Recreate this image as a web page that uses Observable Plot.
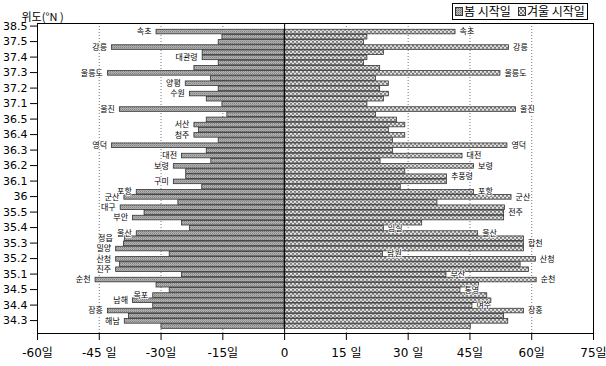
<!DOCTYPE html>
<html><head><meta charset="utf-8">
<script src="https://cdn.jsdelivr.net/npm/d3@7"></script>
<script src="https://cdn.jsdelivr.net/npm/@observablehq/plot@0.6"></script>
<style>body{margin:0;background:#fff} #chart{width:606px;height:366px}</style>
</head><body><div id="chart"></div>
<script>
// 봄 시작일 (negative, days) and 겨울 시작일 (positive, days), stations from north to south
const springDays = [-31.1,-15.1,-16.0,-41.9,-19.9,-19.9,-16.0,-21.9,-42.9,-17.9,
  -24.0,-16.0,-23.0,-18.9,-15.1,-40.0,-13.9,-18.9,-21.9,-20.8,
  -21.9,-16.0,-41.9,-18.9,-24.9,-17.8,-26.9,-23.9,-23.9,-26.9,
  -20.0,-35.9,-38.9,-25.8,-39.8,-34.0,-36.8,-24.9,-23.0,-35.9,
  -38.8,-39.0,-40.9,-27.9,-40.9,-40.0,-40.9,-24.9,-45.9,-31.1,
  -27.9,-31.9,-36.8,-31.9,-42.9,-37.8,-38.8,-29.9];
const winterDays = [41.5,20.1,19.3,54.5,24.1,20.1,19.3,23.2,52.4,22.2,
  25.3,23.2,25.3,24.1,20.1,56.2,22.2,27.3,29.3,25.3,
  29.3,26.3,54.1,26.3,43.2,23.3,46.0,29.3,39.4,39.4,
  28.2,46.0,55.1,37.1,53.5,53.3,53.3,33.4,24.1,47.0,
  58.1,58.1,58.1,23.9,61.0,57.3,59.3,39.3,61.2,47.2,
  42.7,49.2,50.2,45.6,58.1,53.3,54.3,45.2];
const leftNames = ["속초","","","강릉","","대관령","","","울릉도","",
  "양평","","수원","","","울진","","","서산","",
  "청주","","영덕","","대전","","보령","","","구미",
  "","포항","군산","","대구","","부안","","","울산",
  "정읍","","밀양","","산청","","진주","","순천","",
  "","목포","남해","","장흥","","해남",""];
const rightNames = ["속초","","","강릉","","","","","울릉도","",
  "","","","","","울진","","","","",
  "","","영덕","","대전","","보령","","추풍령","",
  "","포항","군산","","","전주","","","임실","울산",
  "","합천","","남원","산청","","","부산","순천","",
  "통영","","","여수","장흥","","",""];
const yTickLabels = ["38.5","37.5","37.4","37.3","37.2","37.1","36.5","36.4","36.3","36.2",
  "36.1","36","35.5","35.4","35.3","35.2","35.1","34.5","34.4","34.3"];
const xTicks = [-60,-45,-30,-15,0,15,30,45,60,75];
const xTickLabels = ["-60일","-45 일","-30일","-15일","0","15 일","30 일","45일","60일","75일"];
const legendLabels = ["봄 시작일","겨울 시작일"];
const yTitle = "위도(°N )";
const farLeftNames = ["정읍"]; // labels set further out, as in the original

const rows = springDays.map((s, i) => ({i, spring: s, winter: winterDays[i], left: leftNames[i], right: rightNames[i]}));
const bandDomain = d3.range(-1, springDays.length + 1);
const yTicks = d3.range(-1, springDays.length, 3);
const kr = "'Noto Sans CJK KR', sans-serif";
const labelStyle = {fontFamily: kr, fontSize: 8, fill: "black", stroke: "white", strokeWidth: 1.5, dy: 0.5};

const plot = Plot.plot({
  width: 606, height: 366,
  marginLeft: 37, marginRight: 13, marginTop: 23, marginBottom: 33,
  style: {fontFamily: "'DejaVu Sans', 'Noto Sans CJK KR', sans-serif", fontSize: "11px", background: "white", color: "black"},
  x: {domain: [-60, 75]},
  y: {type: "band", domain: bandDomain, padding: 0, round: false},
  marks: [
    Plot.ruleX(xTicks.filter(d => d !== 0 && d !== -60 && d !== 75), {stroke: "#777", strokeDasharray: "1,2"}),
    Plot.barX(rows, {y: "i", x1: 0, x2: "spring", fill: "url(#springPat)", stroke: "#333", strokeWidth: 0.8, insetTop: 0.3, insetBottom: 0.3, dy: 0.8}),
    Plot.barX(rows, {y: "i", x1: 0, x2: "winter", fill: "url(#winterPat)", stroke: "#333", strokeWidth: 0.8, insetTop: 0.3, insetBottom: 0.3, dy: 0.8}),
    Plot.ruleX([0], {stroke: "black", strokeWidth: 1}),
    Plot.text(rows.filter(d => d.left && !farLeftNames.includes(d.left)), {y: "i", x: "spring", text: "left", textAnchor: "end", dx: -5, ...labelStyle}),
    Plot.text(rows.filter(d => farLeftNames.includes(d.left)), {y: "i", x: "spring", text: "left", textAnchor: "end", dx: -12, ...labelStyle}),
    Plot.text(rows.filter(d => d.right), {y: "i", x: "winter", text: "right", textAnchor: "start", dx: 4, ...labelStyle}),
    Plot.frame({stroke: "black"}),
    Plot.axisX({ticks: xTicks, tickFormat: d => xTickLabels[xTicks.indexOf(d)], tickSize: 7, tickPadding: 8, fontSize: 12, label: null}),
    Plot.axisY({ticks: yTicks, tickFormat: d => yTickLabels[yTicks.indexOf(d)], tickSize: 7, tickPadding: 3, fontSize: 11, label: null}),
    Plot.text([yTitle], {frameAnchor: "top-left", dx: -16, dy: -10, textAnchor: "start", fontFamily: kr, fontSize: 11})
  ]
});

const ns = "http://www.w3.org/2000/svg";
const defs = document.createElementNS(ns, "defs");
defs.innerHTML = `
<pattern id="springPat" patternUnits="userSpaceOnUse" width="2" height="2">
  <rect width="2" height="2" fill="#bcbcbc"/>
  <rect x="0" y="0" width="1" height="1" fill="#747474"/>
  <rect x="1" y="1" width="1" height="1" fill="#949494"/>
</pattern>
<pattern id="winterPat" patternUnits="userSpaceOnUse" width="4" height="4">
  <rect width="4" height="4" fill="#e6e6e6"/>
  <rect x="0" y="0" width="2" height="2" fill="#7c7c7c"/>
  <rect x="2" y="2" width="2" height="2" fill="#7c7c7c"/>
</pattern>`;
plot.insertBefore(defs, plot.firstChild);

const legend = document.createElementNS(ns, "g");
legend.setAttribute("font-family", "'Noto Sans CJK KR', sans-serif");
legend.setAttribute("font-size", "12");
legend.setAttribute("text-anchor", "start");
legend.innerHTML = `
<rect x="452.5" y="3.5" width="135" height="16" fill="white" stroke="black"/>
<rect x="455.5" y="7.5" width="7" height="8" fill="url(#springPat)" stroke="#333"/>
<text x="464" y="16" text-anchor="start">${legendLabels[0]}</text>
<rect x="518.5" y="7.5" width="7" height="8" fill="url(#winterPat)" stroke="#333"/>
<text x="527" y="16" text-anchor="start">${legendLabels[1]}</text>`;
plot.appendChild(legend);

document.getElementById("chart").appendChild(plot);
</script>
</body></html>
